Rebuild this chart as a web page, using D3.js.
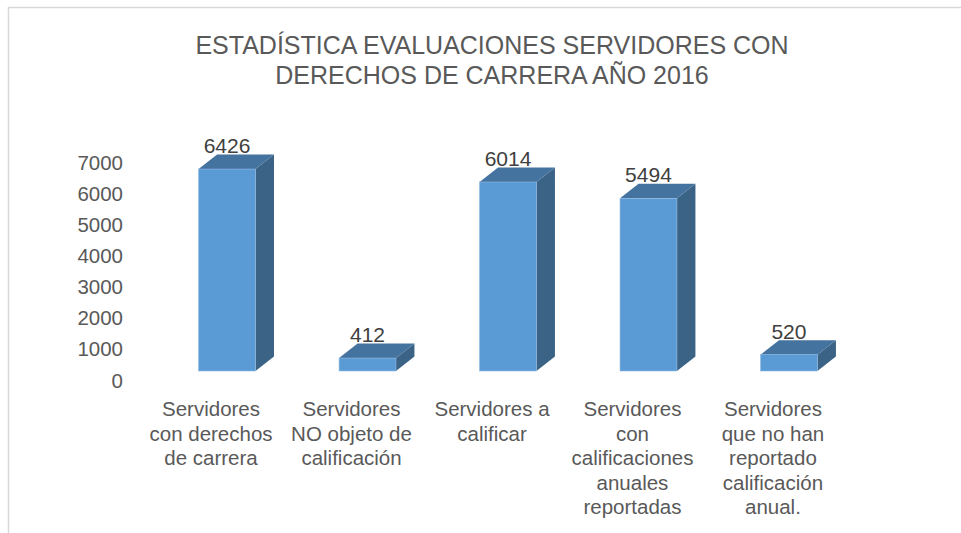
<!DOCTYPE html>
<html>
<head>
<meta charset="utf-8">
<script src="https://cdn.jsdelivr.net/npm/d3@7"></script>
<style>
html,body{margin:0;padding:0;background:#fff;}
svg{display:block;}
text{font-family:"Liberation Sans",Arial,sans-serif;}
</style>
</head>
<body>
<svg id="chart" width="961" height="533"></svg>
<script>
const titleLines = ["ESTADÍSTICA EVALUACIONES SERVIDORES CON", "DERECHOS DE CARRERA AÑO 2016"];
const categories = [
  ["Servidores", "con derechos", "de carrera"],
  ["Servidores", "NO objeto de", "calificación"],
  ["Servidores a", "calificar"],
  ["Servidores", "con", "calificaciones", "anuales", "reportadas"],
  ["Servidores", "que no han", "reportado", "calificación", "anual."]
];
const values = [6426, 412, 6014, 5494, 520];
const yTicks = [0, 1000, 2000, 3000, 4000, 5000, 6000, 7000];

const svg = d3.select("#chart");
const W = 961, H = 533;

// chart border
svg.append("rect").attr("x", 8.5).attr("y", 7.5).attr("width", W).attr("height", H)
  .attr("fill", "#fff").attr("stroke", "#d9d9d9").attr("stroke-width", 1.5);

// title
svg.append("text").attr("x", 492).attr("y", 54)
  .attr("text-anchor", "middle").attr("fill", "#595959").attr("font-size", 25)
  .selectAll("tspan").data(titleLines).join("tspan")
  .attr("x", 492).attr("dy", (d, i) => i === 0 ? 0 : 30).text(d => d);

const idx = categories.map((c, i) => i);
const x = d3.scaleBand().domain(idx).range([156.8, 859.2]).padding(0);
const barW = x.bandwidth() * 0.405;
const y = d3.scaleLinear().domain([0, 7000]).range([371, 151]);
const yLab = d3.scaleLinear().domain([0, 7000]).range([380.5, 162.5]);
const dx = 18.5, dy = -14.5;

// y axis labels
const axisG = svg.append("g").attr("transform", "translate(123,0)")
  .call(d3.axisLeft(yLab).tickValues(yTicks).tickSize(0).tickPadding(0).tickFormat(d3.format("d")));
axisG.select(".domain").remove();
axisG.selectAll("text").attr("font-size", 20.5).attr("fill", "#595959")
  .attr("font-family", "Liberation Sans, Arial, sans-serif");

// bars
const bars = svg.append("g").selectAll("g").data(values).join("g");
bars.each(function(v, i) {
  const g = d3.select(this);
  const cx = x(i) + x.bandwidth() / 2;
  const x0 = cx - barW / 2, x1 = cx + barW / 2;
  const yt = y(v), yb = y(0);
  // side
  g.append("path").attr("d",
    `M${x1},${yb} L${x1 + dx},${yb + dy} L${x1 + dx},${yt + dy} L${x1},${yt} Z`)
    .attr("fill", "#3b6386");
  // top
  g.append("path").attr("d",
    `M${x0},${yt} L${x0 + dx},${yt + dy} L${x1 + dx},${yt + dy} L${x1},${yt} Z`)
    .attr("fill", "#44739f");
  // front
  g.append("rect").attr("x", x0).attr("y", yt).attr("width", barW).attr("height", yb - yt)
    .attr("fill", "#5b9bd5").attr("stroke", "#8fb8e0").attr("stroke-width", 0.6);
  // value label
  g.append("text").attr("x", cx).attr("y", yt + dy - 1.5)
    .attr("text-anchor", "middle").attr("font-size", 21).attr("fill", "#404040").text(v);
});

// category labels
const catG = svg.append("g");
categories.forEach((lines, i) => {
  const cx = x(i) + x.bandwidth() / 2 - 16;
  catG.append("text").attr("x", cx).attr("y", 416)
    .attr("text-anchor", "middle").attr("font-size", 20.5).attr("fill", "#595959")
    .selectAll("tspan").data(lines).join("tspan")
    .attr("x", cx).attr("dy", (d, j) => j === 0 ? 0 : 24.5).text(d => d);
});
</script>
</body>
</html>
